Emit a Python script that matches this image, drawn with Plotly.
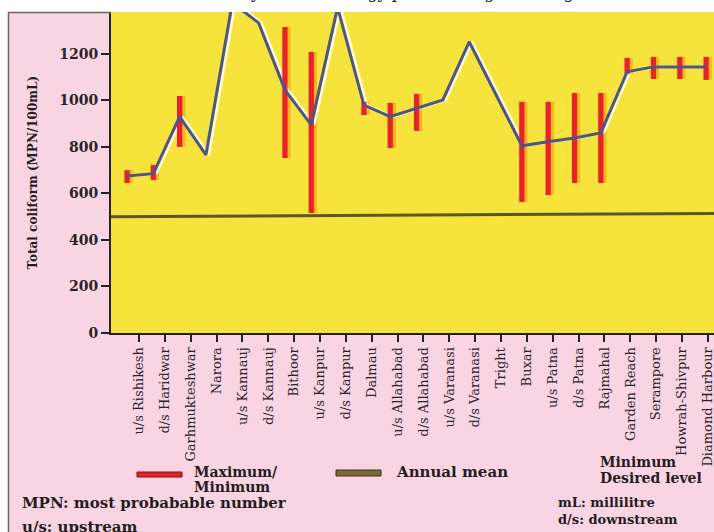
import plotly.graph_objects as go

# sampling stations along the river (upstream -> downstream)
stations = ["u/s Rishikesh", "d/s Haridwar", "Garhmukteshwar", "Narora", "u/s Kannauj",
            "d/s Kannauj", "Bithoor", "u/s Kanpur", "d/s Kanpur", "Dalmau",
            "u/s Allahabad", "d/s Allahabad", "u/s Varanasi", "d/s Varanasi", "Tright",
            "Buxar", "u/s Patna", "d/s Patna", "Rajmahal", "Garden Reach",
            "Serampore", "Howrah-Shivpur", "Diamond Harbour"]

# annual mean total coliform (MPN/100mL)
annual_mean = [675, 685, 930, 766, 1420, 1333, 1045, 895, 1400, 980,
               930, 967, 1002, 1252, None, 805, 822, 838, 860, 1123,
               1144, 1144, 1144]

# maximum / minimum (None where no bar was drawn)
maximum = [700, 722, 1019, None, None, None, 1316, 1208, None, 994,
           989, 1028, None, None, None, 994, 994, 1032, 1032, 1183,
           1187, 1187, 1187]
minimum = [645, 658, 800, None, None, None, 752, 516, None, 937,
           795, 869, None, None, None, 563, 593, 645, 645, 1114,
           1092, 1092, 1088]

desired_level = [500, 514]   # drawn level (slightly skewed in the scan)
y_ticks = [0, 200, 400, 600, 800, 1000, 1200]

PINK = "#f9d5e4"
YELLOW = "#f6e43c"
RED = "#e8222a"
LINE = "#4f5683"
SERIF = "DejaVu Serif"

W, H = 714, 532
L, R, T, B = 111, 714, 12, 333   # plot area in pixels


def px(x):
    return (x - L) / (R - L)


def py(y):
    return (B - y) / (B - T)


idx = list(range(len(stations)))
bar_x = [i for i, hi in zip(idx, maximum) if hi is not None]
bar_base = [lo for lo, hi in zip(minimum, maximum) if hi is not None]
bar_len = [hi - lo for lo, hi in zip(minimum, maximum) if hi is not None]

fig = go.Figure()

# empty trace so the labelled station axis gets drawn
fig.add_trace(go.Scatter(x=idx, y=[None] * len(idx), mode="lines",
                         hoverinfo="skip", showlegend=False))

# shadows (same data, drawn on an axis shifted a few pixels)
fig.add_trace(go.Bar(x=bar_x, y=bar_len, base=bar_base, width=0.2,
                     marker=dict(color="#f4b51e", line=dict(width=0)),
                     xaxis="x2", hoverinfo="skip", showlegend=False))
fig.add_trace(go.Scatter(x=idx, y=annual_mean, mode="lines", connectgaps=True,
                         line=dict(color="rgba(255,255,255,0.85)", width=2.5),
                         xaxis="x2", hoverinfo="skip", showlegend=False))

fig.add_trace(go.Scatter(x=idx, y=annual_mean, mode="lines", connectgaps=True,
                         line=dict(color=LINE, width=3),
                         xaxis="x3", name="Annual mean", showlegend=False))
fig.add_trace(go.Bar(x=bar_x, y=bar_len, base=bar_base, width=0.2,
                     marker=dict(color=RED, line=dict(width=0)),
                     xaxis="x3", name="Maximum/Minimum", showlegend=False))

# level line across the plot
fig.add_shape(type="line", xref="paper", yref="y", x0=0, x1=1,
              y0=desired_level[0], y1=desired_level[1],
              line=dict(color="#5b5530", width=3), layer="above")

tick_rng = [-1.083, 22.235]
data_rng = [-0.608, 22.30]
shift = 3 / 26.32

fig.update_layout(
    width=W, height=H, autosize=False,
    margin=dict(l=L, r=W - R, t=T, b=H - B, pad=0),
    paper_bgcolor=PINK, plot_bgcolor=YELLOW,
    showlegend=False, barmode="overlay",
    xaxis=dict(range=tick_rng, tickmode="array", tickvals=idx, ticktext=stations,
               tickangle=-90, ticks="outside", ticklen=7, tickwidth=2, tickcolor="#222",
               ticklabeloverflow="allow",
               showline=True, linewidth=2, linecolor="#222", showgrid=False, zeroline=False,
               tickfont=dict(family=SERIF, size=13, color="#2a2326")),
    xaxis2=dict(overlaying="x", range=[data_rng[0] - shift, data_rng[1] - shift],
                visible=False),
    xaxis3=dict(overlaying="x", range=data_rng, visible=False),
    yaxis=dict(range=[0, 1380], tickvals=y_ticks, ticks="outside", ticklen=8,
               tickwidth=2, tickcolor="#222", showline=True, linewidth=2,
               linecolor="#222", showgrid=False, zeroline=False,
               tickfont=dict(family=SERIF, size=14, color="#2a2326", weight="bold")),
)

# white page strip above / left of the pink panel, and the panel border
fig.add_shape(type="rect", xref="paper", yref="paper", x0=px(-5), x1=px(W + 5),
              y0=py(T), y1=py(-5), fillcolor="white", line=dict(width=0), layer="above")
fig.add_shape(type="rect", xref="paper", yref="paper", x0=px(-5), x1=px(8),
              y0=py(H + 5), y1=py(T), fillcolor="white", line=dict(width=0), layer="above")
fig.add_shape(type="line", xref="paper", yref="paper", x0=px(8.5), x1=px(8.5),
              y0=py(H + 5), y1=py(T), line=dict(color="#6a6268", width=1.5), layer="above")
fig.add_shape(type="line", xref="paper", yref="paper", x0=px(8.5), x1=px(L),
              y0=py(T + 0.5), y1=py(T + 0.5), line=dict(color="#6a6268", width=1.5),
              layer="above")

# legend swatches
fig.add_shape(type="rect", xref="paper", yref="paper", x0=px(137), x1=px(182),
              y0=py(477), y1=py(472), fillcolor=RED, line=dict(color="#6b1a1a", width=1),
              layer="above")
fig.add_shape(type="rect", xref="paper", yref="paper", x0=px(336), x1=px(381),
              y0=py(476), y1=py(470), fillcolor="#7a6a3a", line=dict(color="#3a3420", width=1),
              layer="above")


def note(text, x, y, size=14, xanchor="left", yanchor="middle", bold=True, angle=0):
    fig.add_annotation(text=text, xref="paper", yref="paper", x=px(x), y=py(y),
                       xanchor=xanchor, yanchor=yanchor, showarrow=False, align="left",
                       textangle=angle,
                       font=dict(family=SERIF, size=size, color="#231c20",
                                 weight="bold" if bold else "normal"))


note("Maximum/", 192, 472, size=14)
note("Minimum", 192, 487, size=14)
note("Annual mean", 394, 472, size=15)
note("Minimum", 598, 462, size=14)
note("Desired level", 598, 478, size=14)
note("MPN: most probabable number", 20, 503, size=15)
note("u/s: upstream", 20, 527, size=15)
note("mL: millilitre", 556, 503, size=13)
note("d/s: downstream", 556, 519, size=13)
note("Total coliform (MPN/100mL)", 32, (T + B) / 2, size=12, xanchor="center", angle=-90)
note("Variability in bacteriology profile along the Ganga", 380, 4, size=16,
     xanchor="center", yanchor="bottom", bold=False)

# the page body has a default 8px margin; drop it so the chart fills the window
fig.write_html("out.html", config={"displayModeBar": False},
               post_script="document.body.style.margin='0';")
